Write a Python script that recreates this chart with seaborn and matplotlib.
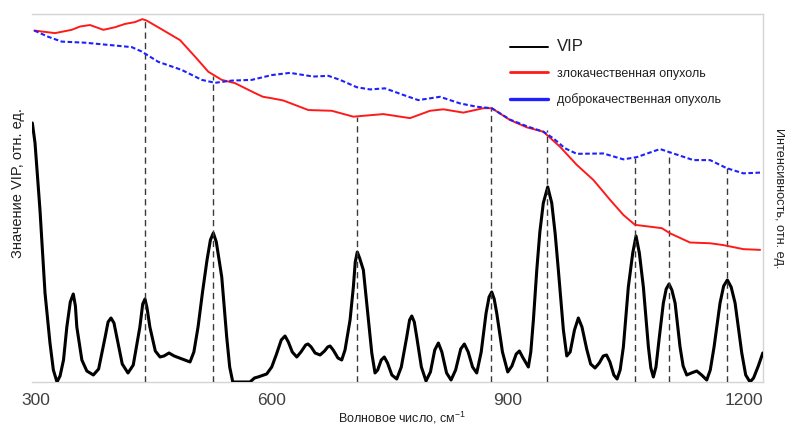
import numpy as np
import pandas as pd
import matplotlib
matplotlib.use("Agg")
import matplotlib.pyplot as plt
import seaborn as sns
from matplotlib import font_manager
from matplotlib.lines import Line2D

# ---------------- data ----------------
vip_wavenumber = [295.8, 299.2, 305.5, 311.9, 318.2, 322.5, 327.1, 331.0, 335.4, 339.6,
                  344.0, 347.8, 350.5, 352.3, 358.7, 365.0, 373.3, 380.0, 388.3, 392.0,
                  395.7, 399.5, 403.1, 410.0, 417.3, 424.0, 432.4, 436.0, 438.9, 441.5,
                  445.1, 452.0, 458.0, 463.0, 469.4, 476.0, 485.9, 496.1, 501.0, 506.3,
                  512.0, 517.7, 522.0, 525.7, 529.5, 532.5, 536.4, 542.7, 546.5, 550.4,
                  572.3, 578.0, 582.5, 593.5, 599.9, 606.0, 612.0, 616.8, 621.0, 626.0,
                  631.7, 637.0, 643.0, 646.0, 650.0, 655.0, 661.3, 667.0, 671.0, 674.0,
                  678.0, 684.0, 688.8, 693.0, 699.4, 703.6, 706.0, 708.6, 711.5, 716.3,
                  720.6, 727.0, 731.1, 734.5, 739.0, 742.9, 747.0, 752.5, 758.7, 764.5,
                  771.4, 775.0, 777.8, 781.0, 784.1, 790.0, 795.9, 801.5, 807.0, 811.6,
                  816.0, 822.0, 827.7, 833.5, 840.0, 844.6, 849.5, 855.0, 860.3, 866.0,
                  872.2, 876.0, 879.4, 882.5, 885.7, 893.0, 899.7, 905.0, 910.5, 914.5,
                  918.5, 925.9, 929.0, 932.3, 936.6, 940.5, 944.9, 950.5, 955.6, 960.0,
                  964.0, 970.4, 974.7, 979.0, 984.5, 989.4, 994.0, 1000.0, 1005.0, 1010.6,
                  1016.0, 1021.0, 1025.2, 1029.5, 1034.5, 1038.6, 1042.5, 1046.6, 1052.9, 1058.5,
                  1062.7, 1066.9, 1072.0, 1078.4, 1081.5, 1084.7, 1088.0, 1092.3, 1097.4, 1101.0,
                  1104.6, 1108.2, 1112.3, 1118.6, 1122.5, 1127.1, 1133.0, 1139.8, 1146.0, 1152.5,
                  1157.0, 1161.8, 1169.4, 1174.0, 1178.7, 1183.5, 1188.5, 1197.0, 1202.0, 1207.5,
                  1212.0, 1218.0, 1223.7]
vip_value = [2.59, 2.39, 1.72, 0.89, 0.39, 0.12, 0.00, 0.06, 0.22, 0.55,
             0.80, 0.88, 0.76, 0.55, 0.22, 0.11, 0.07, 0.13, 0.45, 0.60,
             0.64, 0.59, 0.45, 0.18, 0.09, 0.17, 0.55, 0.78, 0.83, 0.74,
             0.55, 0.31, 0.25, 0.26, 0.29, 0.26, 0.23, 0.20, 0.30, 0.55,
             0.90, 1.22, 1.42, 1.49, 1.40, 1.25, 1.05, 0.45, 0.15, 0.00,
             0.00, 0.04, 0.05, 0.08, 0.15, 0.28, 0.42, 0.46, 0.40, 0.30,
             0.25, 0.30, 0.37, 0.38, 0.35, 0.29, 0.27, 0.31, 0.35, 0.36,
             0.32, 0.24, 0.22, 0.32, 0.62, 0.95, 1.20, 1.30, 1.24, 1.12,
             0.79, 0.29, 0.09, 0.12, 0.22, 0.25, 0.19, 0.07, 0.03, 0.15,
             0.45, 0.62, 0.66, 0.60, 0.45, 0.15, 0.01, 0.10, 0.32, 0.39,
             0.30, 0.09, 0.02, 0.12, 0.33, 0.38, 0.30, 0.15, 0.09, 0.30,
             0.69, 0.85, 0.90, 0.83, 0.69, 0.30, 0.10, 0.16, 0.28, 0.31,
             0.25, 0.15, 0.30, 0.62, 1.12, 1.50, 1.79, 1.95, 1.79, 1.48,
             1.12, 0.52, 0.26, 0.30, 0.52, 0.64, 0.55, 0.33, 0.18, 0.14,
             0.19, 0.26, 0.27, 0.20, 0.07, 0.03, 0.12, 0.35, 0.95, 1.29,
             1.46, 1.29, 0.95, 0.35, 0.14, 0.05, 0.15, 0.45, 0.79, 0.93,
             0.98, 0.92, 0.79, 0.35, 0.16, 0.07, 0.09, 0.11, 0.07, 0.02,
             0.12, 0.35, 0.79, 0.96, 1.02, 0.95, 0.79, 0.29, 0.07, 0.00,
             0.04, 0.16, 0.29]

malignant_wavenumber = [298.3, 324.6, 345.8, 356.4, 369.1, 386.0, 400.8, 413.5, 426.2, 435.5,
                        441.1, 458.0, 483.4, 502.5, 519.4, 536.4, 553.3, 578.7, 588.8, 599.9,
                        614.6, 646.4, 676.1, 703.6, 741.7, 775.6, 801.0, 817.9, 843.3, 868.7,
                        879.4, 902.6, 923.9, 945.0, 966.2, 987.4, 1008.5, 1029.7, 1046.6, 1061.4,
                        1080.5, 1095.4, 1105.9, 1131.3, 1156.7, 1173.6, 1199.0, 1220.3]
malignant_intensity = [0.955, 0.948, 0.957, 0.966, 0.970, 0.957, 0.964, 0.973, 0.978, 0.986,
                       0.982, 0.961, 0.929, 0.884, 0.843, 0.821, 0.812, 0.785, 0.775, 0.771,
                       0.765, 0.739, 0.737, 0.721, 0.728, 0.717, 0.737, 0.741, 0.732, 0.744,
                       0.744, 0.712, 0.692, 0.680, 0.639, 0.590, 0.549, 0.495, 0.454, 0.427,
                       0.422, 0.418, 0.404, 0.379, 0.377, 0.372, 0.361, 0.359]

benign_wavenumber = [298.3, 316.1, 333.1, 362.7, 392.3, 422.0, 434.7, 455.8, 485.6, 511.0,
                     527.9, 549.1, 574.5, 599.9, 623.1, 652.7, 671.8, 686.7, 707.9, 724.8,
                     743.8, 767.1, 786.1, 813.7, 839.1, 860.3, 879.4, 902.6, 923.9, 945.0,
                     957.7, 972.5, 987.4, 1021.2, 1046.6, 1063.6, 1093.2, 1110.1, 1135.5, 1156.7,
                     1177.9, 1199.0, 1220.3]
benign_intensity = [0.955, 0.938, 0.925, 0.922, 0.916, 0.910, 0.898, 0.870, 0.848, 0.821,
                    0.813, 0.819, 0.821, 0.834, 0.840, 0.830, 0.832, 0.821, 0.801, 0.795,
                    0.798, 0.780, 0.766, 0.775, 0.757, 0.748, 0.744, 0.713, 0.695, 0.680,
                    0.662, 0.635, 0.620, 0.621, 0.605, 0.611, 0.633, 0.621, 0.603, 0.603,
                    0.581, 0.567, 0.569]

peak_wavenumber = [439, 525, 708, 878, 950, 1062, 1104, 1178]
peak_top = [0.984, 0.832, 0.720, 0.745, 0.685, 0.609, 0.625, 0.582]

xtick_values = [300, 600, 900, 1200]
legend_labels = ["VIP", "злокачественная опухоль", "доброкачественная опухоль"]

# ---------------- style ----------------
sns.set_theme(style="white")
available = {f.name for f in font_manager.fontManager.ttflist}
text_font = "Liberation Sans Narrow" if "Liberation Sans Narrow" in available else "Liberation Sans"
plt.rcParams["font.family"] = [text_font, "DejaVu Sans"]
plt.rcParams["mathtext.fontset"] = "custom"
plt.rcParams["mathtext.rm"] = text_font

fig = plt.figure(figsize=(7.85, 4.28), dpi=100)
ax = fig.add_axes([0.0408, 0.1075, 0.9312, 0.8598])
ax2 = ax.twinx()

vip_df = pd.DataFrame({"w": vip_wavenumber, "v": vip_value})
mal_df = pd.DataFrame({"w": malignant_wavenumber, "i": malignant_intensity})
ben_df = pd.DataFrame({"w": benign_wavenumber, "i": benign_intensity})

# dashed marker lines at selected peaks
ax2.vlines(peak_wavenumber, 0, peak_top, colors="#3a3a3a",
           linestyles=(0, (4.5, 3.0)), linewidth=1.0, zorder=1)

sns.lineplot(data=vip_df, x="w", y="v", ax=ax, color="black", linewidth=2.2,
             solid_joinstyle="round", zorder=3)
sns.lineplot(data=mal_df, x="w", y="i", ax=ax2, color="#ff1a1a", linewidth=1.4,
             solid_joinstyle="round", zorder=3)
sns.lineplot(data=ben_df, x="w", y="i", ax=ax2, color="#2020ff", linewidth=1.5,
             linestyle=(0, (2.2, 1.2)), zorder=3)

xmin, xmax = 295.4, 1224.0
ax.set_xlim(xmin, xmax)
ax2.set_xlim(xmin, xmax)
ax.set_ylim(0, 3.68)
ax2.set_ylim(0, 1.0)

ax.set_xticks(xtick_values)
ax.set_xticklabels([str(v) for v in xtick_values], fontsize=12.5, color="#404040",
                   family=["Liberation Sans", "DejaVu Sans"])
ax.tick_params(axis="x", length=0, pad=8)
ax.set_yticks([])
ax2.set_yticks([])

for name, sp in ax.spines.items():
    sp.set_color("#d4d4d4")
    sp.set_linewidth(1.0)
ax.spines["left"].set_visible(False)
for sp in ax2.spines.values():
    sp.set_visible(False)

ax.set_xlabel("Волновое число, см$^{-1}$", fontsize=9, color="#202020", va="center")
ax.xaxis.set_label_coords(0.506, -0.097)
ax.set_ylabel("Значение VIP, отн. ед.", fontsize=10.5, color="#202020", va="center")
ax.yaxis.set_label_coords(-0.0192, 0.54)
ax2.set_ylabel("Интенсивность, отн. ед.", fontsize=9.2, color="#202020",
               rotation=270, va="center")
ax2.yaxis.set_label_coords(1.0219, 0.5)

handles = [Line2D([], [], color="black", linewidth=1.4),
           Line2D([], [], color="#ff1a1a", linewidth=2.0),
           Line2D([], [], color="#2020ff", linewidth=2.4)]
leg = ax2.legend(handles, legend_labels, loc="upper left",
                 bbox_to_anchor=((510 - 32) / 731, (382 - 39) / 368),
                 frameon=False, fontsize=9, handlelength=3.0, handletextpad=0.75,
                 labelspacing=1.1, borderpad=0, borderaxespad=0)
texts = leg.get_texts()
texts[0].set_fontsize(12)
for t in texts:
    t.set_color("#202020")

fig.savefig("out.png", dpi=100)
